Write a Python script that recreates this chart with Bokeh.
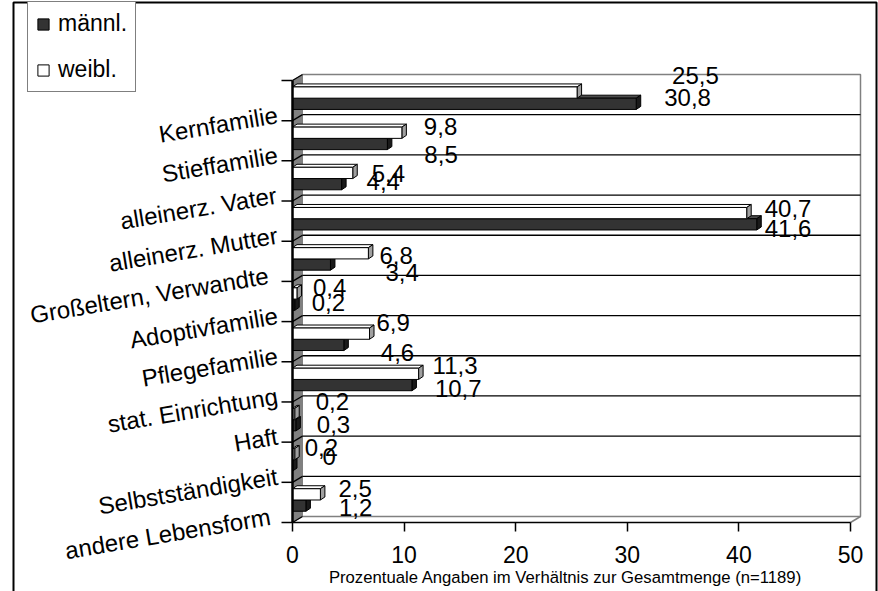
import math
from bokeh.plotting import figure
from bokeh.models import Range1d, FixedTicker, Legend, LegendItem, ColumnDataSource, LinearAxis
from bokeh.core.properties import value
from bokeh.embed import file_html
from bokeh.resources import INLINE

# ---------------- data ----------------
categories = ["Kernfamilie", "Stieffamilie", "alleinerz. Vater", "alleinerz. Mutter",
              "Großeltern, Verwandte", "Adoptivfamilie", "Pflegefamilie",
              "stat. Einrichtung", "Haft", "Selbstständigkeit", "andere Lebensform"]
weibl = [25.5, 9.8, 5.4, 40.7, 6.8, 0.4, 6.9, 11.3, 0.2, 0.2, 2.5]
maennl = [30.8, 8.5, 4.4, 41.6, 3.4, 0.2, 4.6, 10.7, 0.3, 0.0, 1.2]
x_ticks = [0, 10, 20, 30, 40, 50]
series_names = ["männl.", "weibl."]
axis_title = "Prozentuale Angaben im Verhältnis zur Gesamtmenge (n=1189)"

# ---------------- label placement (pixel offsets, style only) ----------------
lbl_dx_w = [95, 22, 19, 18, 11, 16, 7, 14, 21, 10, 18]
lbl_dy_w = [-5, 6, 13, 7, 14, 6, 1, 4, 0, 5, 6]
lbl_dx_m = [28, 37, 25, 8, 55, 17, 37, 23, 21, 30, 33]
lbl_dy_m = [17, 34, 21, 27, 31, 21, 31, 27, 23, 14, 25]
cat_dx = [-15, -15, -16, -15, -24, -15, -15, -15, -15, -15, -22]

FONT = "Liberation Sans"

# ---------------- layout constants ----------------
W, H = 878, 591
X0_PX, X50_PX = 292, 850
Y_TOP_PX, Y_BOT_PX = 80, 522
n = len(categories)
xmax = x_ticks[-1]
PPX = (X50_PX - X0_PX) / float(xmax)
BAND = (Y_BOT_PX - Y_TOP_PX) / float(n)
x_start = -X0_PX / PPX
x_end = x_start + W / PPX
y_end = -Y_TOP_PX / BAND
y_start = y_end + H / BAND


def px2x(px):
    return x_start + px / PPX


def py2y(py):
    return y_end + py / BAND


DX, DY = 10 / PPX, -6 / BAND          # wall depth
BDX, BDY = 4.5 / PPX, -3 / BAND       # bar depth
W_TOP, MID, M_BOT = 0.16, 0.44, 0.72

p = figure(width=W, height=H, output_backend="svg", toolbar_location=None,
           x_range=Range1d(x_start, x_end), y_range=Range1d(y_start, y_end),
           x_axis_location=None, y_axis_location=None,
           min_border_left=0, min_border_right=0, min_border_top=0, min_border_bottom=0)
p.grid.visible = False
p.outline_line_color = None
p.background_fill_color = "white"
p.border_fill_color = "white"

GRAY = "#808080"
# side wall (left)
p.patch([0, DX, DX, 0], [0, DY, n + DY, n], fill_color=GRAY, line_color=GRAY, line_width=1)
# back wall edges
p.line([DX, xmax + DX, xmax + DX, DX], [DY, DY, n + DY, n + DY], line_color=GRAY, line_width=1.5)
p.line([xmax, xmax + DX], [n, n + DY], line_color=GRAY, line_width=1.5)
# gridlines on back wall and side wall
ks = list(range(1, n))
p.segment(x0=[DX] * len(ks), y0=[k + DY for k in ks], x1=[xmax + DX] * len(ks),
          y1=[k + DY for k in ks], line_color="black", line_width=1.3)
kall = list(range(0, n + 1))
p.segment(x0=[0] * len(kall), y0=kall, x1=[DX] * len(kall), y1=[k + DY for k in kall],
          line_color="black", line_width=1.3)


def bar3d(vals, y0s, y1s, front, top, side):
    tops_x = [[0, v, v + BDX, BDX] for v in vals]
    tops_y = [[a, a, a + BDY, a + BDY] for a in y0s]
    side_x = [[v, v + BDX, v + BDX, v] for v in vals]
    side_y = [[a, a + BDY, b + BDY, b] for a, b in zip(y0s, y1s)]
    p.patches(tops_x, tops_y, fill_color=top, line_color="black", line_width=1)
    p.patches(side_x, side_y, fill_color=side, line_color="black", line_width=1)
    return p.quad(left=[0] * len(vals), right=vals, top=y0s, bottom=y1s,
                  fill_color=front, line_color="black", line_width=1)


idx = list(range(n))
m_r = bar3d(maennl, [i + MID for i in idx], [i + M_BOT for i in idx], "#333333", "#4d4d4d", "#1a1a1a")
w_r = bar3d(weibl, [i + W_TOP for i in idx], [i + MID for i in idx], "white", "white", "#a0a0a0")

# front category axis line and ticks
p.line([0, 0], [0, n], line_color="black", line_width=2.5)
p.segment(x0=[-11 / PPX] * len(kall), y0=kall, x1=[0] * len(kall), y1=kall,
          line_color="black", line_width=1.5)

# category labels
cat_src = ColumnDataSource(dict(x=[0] * n, y=[i + 0.5 for i in idx], t=categories, dx=cat_dx))
p.text(x="x", y="y", text="t", source=cat_src, angle=math.radians(9.5),
       x_offset="dx", y_offset=14, text_align="right", text_baseline="middle",
       text_font=value(FONT), text_font_size="24px", text_color="black")


def fmt(v):
    return str(int(v)) if float(v).is_integer() else str(v).replace(".", ",")


src = ColumnDataSource(dict(
    x=weibl + maennl, y=idx + idx,
    t=[fmt(v) for v in weibl] + [fmt(v) for v in maennl],
    dx=lbl_dx_w + lbl_dx_m, dy=lbl_dy_w + lbl_dy_m))
p.text(x="x", y="y", text="t", x_offset="dx", y_offset="dy", source=src,
       text_align="left", text_baseline="middle", text_font=value(FONT),
       text_font_size="24px", text_color="black")

# value axis, fixed at the front bottom edge of the chart
ax = LinearAxis(fixed_location=n, ticker=FixedTicker(ticks=x_ticks),
                bounds=(x_ticks[0], x_ticks[-1]))
ax.axis_line_color = "black"
ax.axis_line_width = 1.5
ax.major_tick_line_color = "black"
ax.major_tick_line_width = 1.5
ax.major_tick_out = 9
ax.major_tick_in = 0
ax.minor_tick_line_color = None
ax.major_label_text_font = FONT
ax.major_label_text_font_size = "23px"
ax.major_label_text_color = "black"
ax.major_label_standoff = 14
p.add_layout(ax, "below")

# axis title
p.text(x=[xmax / 2], y=[n], text=[axis_title], x_offset=-6, y_offset=55,
       text_align="center", text_baseline="middle", text_font=value(FONT),
       text_font_size="16.7px", text_color="black")

# legend
legend = Legend(items=[LegendItem(label=series_names[0], renderers=[m_r]),
                       LegendItem(label=series_names[1], renderers=[w_r])],
                location=(27, H - 92), orientation="vertical",
                label_text_font=FONT, label_text_font_size="23px", label_text_color="black",
                glyph_width=14, glyph_height=14, label_standoff=8, padding=8, spacing=19,
                label_height=26, border_line_color="black", border_line_width=1.5,
                background_fill_color="white", background_fill_alpha=1, margin=0)
p.add_layout(legend)

# outer frame of the picture
p.line([px2x(13), px2x(13), px2x(876), px2x(876)], [py2y(H + 5), py2y(2), py2y(2), py2y(H + 5)],
       line_color="black", line_width=2)

open("out.html", "w").write(file_html(p, INLINE))
